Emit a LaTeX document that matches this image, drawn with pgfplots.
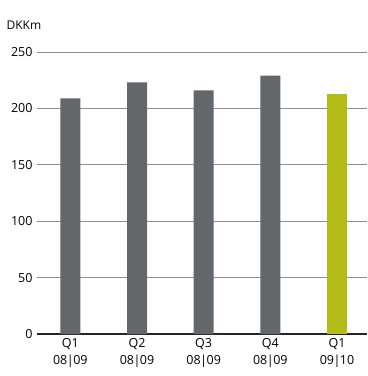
\documentclass[border=0pt]{standalone}
\usepackage{pgfplots}
\pgfplotsset{compat=1.18}
\usepackage{fontspec}
\setmainfont{Open Sans}
\definecolor{bargray}{HTML}{63676A}
\definecolor{bargreen}{HTML}{B4BC18}
\definecolor{gridgray}{HTML}{8E8E8E}
\begin{document}
\begin{tikzpicture}[x=1pt,y=1pt]
\path (0,0) rectangle (367,376);
\node[anchor=west,font=\fontsize{12}{13}\selectfont] at (3,351) {DKKm};
\begin{axis}[
  at={(37pt,42pt)}, anchor=south west,
  scale only axis, width=330pt, height=282pt,
  ymin=0, ymax=250, xmin=-0.5, xmax=4.45,
  ytick={0,50,100,150,200,250},
  xtick={0,1,2,3,4},
  xticklabels={{Q1\\08\kern-0.5pt|\kern-0.5pt09},{Q2\\08\kern-0.5pt|\kern-0.5pt09},{Q3\\08\kern-0.5pt|\kern-0.5pt09},{Q4\\08\kern-0.5pt|\kern-0.5pt09},{Q1\\09\kern-0.5pt|\kern-0.5pt10}},
  xticklabel style={align=center, font=\fontsize{12.5}{16.5}\selectfont, yshift=-1pt},
  yticklabel style={font=\fontsize{12.5}{14}\selectfont, xshift=-1pt},
  /pgf/number format/assume math mode=true,
  axis x line=bottom, axis y line=left,
  y axis line style={draw=none},
  x axis line style={-, line width=1.6pt, black!85},
  major tick length=0pt,
  ymajorgrids, grid style={gridgray, line width=0.7pt},
  ybar, bar width=20pt, bar shift=0pt,
  clip=false,
]
\addplot[fill=bargray, draw=none] coordinates {(0,209) (1,223) (2,216) (3,229)};
\addplot[fill=bargreen, draw=none] coordinates {(4,213)};
\end{axis}
\end{tikzpicture}
\end{document}
